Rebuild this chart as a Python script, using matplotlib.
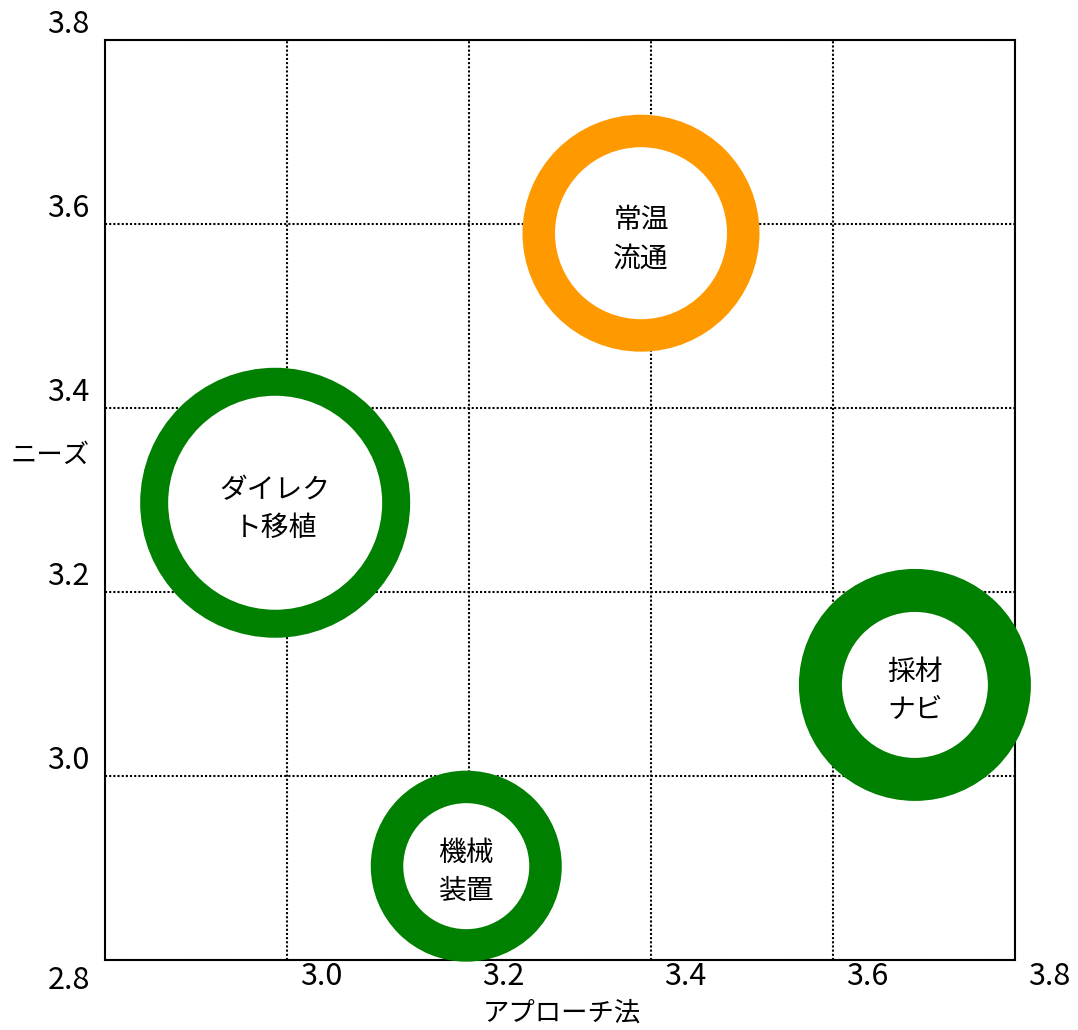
import matplotlib
matplotlib.use('Agg')
from matplotlib import pyplot as plt
from matplotlib.transforms import ScaledTranslation

plt.rcParams['font.family'] = ['Noto Sans CJK JP', 'DejaVu Sans']

# bubble data
names = ['常温\n流通', 'ダイレク\nト移植', '採材\nナビ', '機械\n装置']
approach = [3.389, 2.987, 3.690, 3.197]
needs = [3.590, 3.297, 3.099, 2.902]
outer_d = [237, 270, 232, 191]   # ring outer diameter (px)
inner_d = [172, 214, 146, 126]   # ring inner diameter (px)
colors = ['#FF9900', '#008000', '#008000', '#008000']

xticks = [3.0, 3.2, 3.4, 3.6, 3.8]
yticks = [2.8, 3.0, 3.2, 3.4, 3.6, 3.8]

dpi = 100
fig = plt.figure(figsize=(10.78, 10.30), dpi=dpi)
ax = fig.add_axes([105 / 1078, 70 / 1030, 910 / 1078, 920 / 1030])

px2pt = 72.0 / dpi
s_out = [(d * px2pt) ** 2 for d in outer_d]
s_in = [(d * px2pt) ** 2 for d in inner_d]

ax.scatter(approach, needs, s=s_out, c=colors, linewidths=0, zorder=4, clip_on=False)
ax.scatter(approach, needs, s=s_in, c='white', linewidths=0, zorder=5, clip_on=False)

down = ScaledTranslation(0, -6 / dpi, fig.dpi_scale_trans)
for name, x, y in zip(names, approach, needs):
    ax.text(x, y, name, ha='center', va='center', fontsize=20, linespacing=1.35,
            zorder=6, transform=ax.transData + down)

ax.set_xlim(2.8, 3.8)
ax.set_ylim(2.8, 3.8)
ax.set_xticks(xticks)
ax.set_xticklabels(['%.1f' % v for v in xticks])
ax.set_yticks(yticks)
ax.set_yticklabels(['%.1f' % v for v in yticks])
ax.tick_params(axis='both', length=0, labelsize=22)
ax.tick_params(axis='x', pad=1)
ax.tick_params(axis='y', pad=11)

ax.set_axisbelow(True)
ax.grid(True, color='black', linestyle=(0, (1, 1)), linewidth=1.5)

for sp in ax.spines.values():
    sp.set_linewidth(1.5)
    sp.set_color('black')

# shift tick labels like the original
for lab in ax.get_xticklabels():
    lab.set_transform(lab.get_transform() + ScaledTranslation(34 / dpi, 0, fig.dpi_scale_trans))
for lab, v in zip(ax.get_yticklabels(), yticks):
    dy = -17 if v == 2.8 else 19
    lab.set_transform(lab.get_transform() + ScaledTranslation(0, dy / dpi, fig.dpi_scale_trans))

ax.set_xlabel('アプローチ法', fontsize=19, va='center')
ax.xaxis.set_label_coords(0.5025, -0.058)
ax.set_ylabel('ニーズ', fontsize=19, rotation=0, ha='center', va='center')
ax.yaxis.set_label_coords(-0.0604, 0.549)

fig.savefig('out.png', dpi=dpi)
